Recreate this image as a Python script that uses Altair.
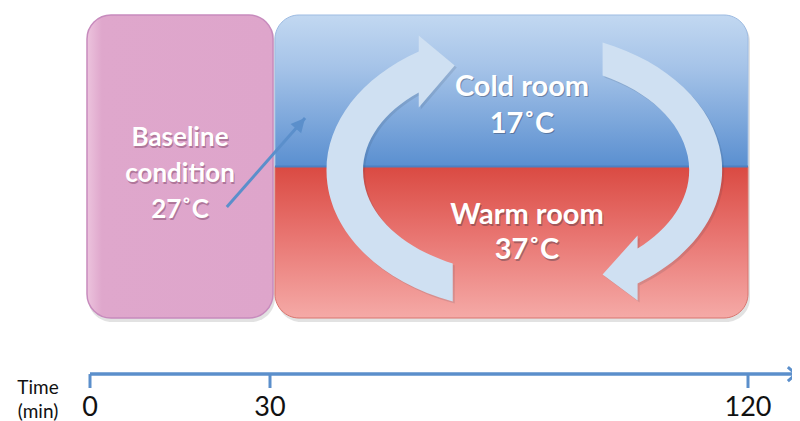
import altair as alt
import pandas as pd

# ---- data ----
phase_lines = ["Baseline\ncondition", "Cold room", "Warm room"]
phase_temp = [27, 17, 37]            # °C
phase_start = [0, 30, 30]            # min
phase_end = [30, 120, 120]           # min
phase_top = [0, 0, 1]                # layout band (0 top, 2 bottom)
phase_bottom = [2, 1, 2]

tick_values = [0, 30, 120]           # min
tick_labels = ["0", "30", "120"]
axis_end = 129.2                     # arrow continues past 120 min

phases = pd.DataFrame({
    "phase": ["baseline", "cold", "warm"],
    "label": [f"{l}\n{t}˚C" for l, t in zip(phase_lines, phase_temp)],
    "start": phase_start, "end": phase_end,
    "top": phase_top, "bottom": phase_bottom,
})
phases["mid"] = (phases["start"] + phases["end"]) / 2
phases["ymid"] = (phases["top"] + phases["bottom"]) / 2

ticks = pd.DataFrame({"t": tick_values, "lab": tick_labels})

# ---- layout (scale units) ----
Y_AXIS, Y_TICK, Y_LAB = 2.37, 2.462, 2.594
FONT = "Lato"

xs = alt.Scale(domain=[0, 30, 120], range=[82, 262, 740], nice=False, zero=False)
ys = alt.Scale(domain=[0, 2], range=[7, 310], nice=False, zero=False)
X = lambda f: alt.X(f, type="quantitative", scale=xs, axis=None)
Y = lambda f: alt.Y(f, type="quantitative", scale=ys, axis=None)

base = alt.Chart(phases)


def grad(stops):
    return alt.Gradient(gradient="linear", x1=0, x2=0, y1=0, y2=1,
                        stops=[alt.GradientStop(color=c, offset=o) for o, c in stops])


# shadows
shadow_pink = base.transform_filter("datum.phase=='baseline'").mark_rect(
    cornerRadius=24, fill="#7a7a7a", opacity=0.22, xOffset=-2, x2Offset=5, yOffset=3, y2Offset=4
).encode(x=X("start"), x2="end", y=Y("top"), y2="bottom")
shadow_room = alt.Chart(pd.DataFrame({"s": [30], "e": [120], "a": [0], "b": [2]})).mark_rect(
    cornerRadius=24, fill="#7a7a7a", opacity=0.22, xOffset=7, x2Offset=2, yOffset=3, y2Offset=4
).encode(x=X("s"), x2="e", y=Y("a"), y2="b")

pink = base.transform_filter("datum.phase=='baseline'").mark_rect(
    cornerRadius=24, stroke="#c78bbd", strokeWidth=1.5, xOffset=-3, x2Offset=3,
    fill=alt.Gradient(gradient="linear", x1=0, x2=1, y1=0, y2=0,
                      stops=[alt.GradientStop(color="#ecc3dd", offset=0),
                             alt.GradientStop(color="#dfa7cc", offset=0.08),
                             alt.GradientStop(color="#dea5cb", offset=1)])
).encode(x=X("start"), x2="end", y=Y("top"), y2="bottom")

blue = base.transform_filter("datum.phase=='cold'").mark_rect(
    cornerRadiusTopLeft=24, cornerRadiusTopRight=24, xOffset=5, x2Offset=0,
    stroke="#9dbbe2", strokeWidth=1,
    fill=grad([(0, "#c2d8f1"), (0.35, "#a5c3e8"), (1, "#5a8fd0")])
).encode(x=X("start"), x2="end", y=Y("top"), y2="bottom")

red = base.transform_filter("datum.phase=='warm'").mark_rect(
    cornerRadiusBottomLeft=24, cornerRadiusBottomRight=24, xOffset=5, x2Offset=0,
    stroke="#d9756f", strokeWidth=1,
    fill=grad([(0, "#da4a42"), (0.45, "#e87470"), (1, "#f5aaa7")])
).encode(x=X("start"), x2="end", y=Y("top"), y2="bottom")

divider = base.transform_filter("datum.phase=='cold'").mark_rule(
    color="#4d80c2", strokeWidth=2, xOffset=5
).encode(x=X("start"), x2="end", y=Y("bottom"))

# circular arrows (decorative shapes centred in the room box)
LEFT_ARROW = ("M -69 131 A 195 140 0 0 1 -103 -119 L -103 -135 L -67 -105 "
              "L -103 -63 L -103 -78 A 159 103 0 0 0 -69 93 Z")
RIGHT_ARROW = ("M 75 -128 A 195 138 0 0 1 110 113 L 110 130 L 75 104 "
               "L 110 65 L 110 78 A 162 107 0 0 0 75 -95 Z")
room = base.transform_filter("datum.phase=='cold'")
arrows = []
for shape, dx in [(LEFT_ARROW, 2.4), (RIGHT_ARROW, 3.5)]:
    arrows.append(room.transform_calculate(mid2=f"datum.mid + {dx}")
                  .mark_point(shape=shape, size=4, filled=True, opacity=0.12,
                              color="#203040", xOffset=2, yOffset=6)
                  .encode(x=X("mid2:Q"), y=Y("bottom")))
    arrows.append(room.transform_calculate(mid2=f"datum.mid + {dx}")
                  .mark_point(shape=shape, size=4, filled=True, opacity=1,
                              color="#cfe0f2", yOffset=4)
                  .encode(x=X("mid2:Q"), y=Y("bottom")))

# small arrow from baseline to the rooms
link = alt.Chart(pd.DataFrame({"t0": [22.8], "t1": [36.6], "y0": [1.267], "y1": [0.68]}))
link_line = link.mark_rule(color="#5b8fcb", strokeWidth=3).encode(
    x=X("t0"), x2="t1", y=Y("y0"), y2="y1")
link_head = link.mark_point(shape="M 0 0 L 7 14 L -7 14 Z", size=4, filled=True,
                            opacity=1, color="#5b8fcb", angle=41, dx=4, dy=-5).encode(
    x=X("t1"), y=Y("y1"))


def label_layer(ph, dx, dy, size, lh):
    b = base.transform_filter(f"datum.phase=='{ph}'")
    sh = b.mark_text(font=FONT, fontWeight="bold", fontSize=size, lineBreak="\n",
                     lineHeight=lh, align="center", baseline="middle",
                     color="#5a2040" if ph == "baseline" else "#2a2a3a",
                     opacity=0.35, dx=dx + 1, dy=dy + 1.5).encode(
        x=X("mid"), y=Y("ymid"), text="label:N")
    fg = b.mark_text(font=FONT, fontWeight="bold", fontSize=size, lineBreak="\n",
                     lineHeight=lh, align="center", baseline="middle",
                     color="white", dx=dx, dy=dy).encode(
        x=X("mid"), y=Y("ymid"), text="label:N")
    return [sh, fg]


labels = (label_layer("baseline", 0, -28.5, 26, 36)
          + label_layer("cold", 13, -4, 29, 37)
          + label_layer("warm", 18, -27, 29, 35))

# timeline
axis_line = alt.Chart(pd.DataFrame({"a": [0], "b": [axis_end], "y": [Y_AXIS]})).mark_rule(
    color="#5b8fcb", strokeWidth=3.5).encode(x=X("a"), x2="b", y=Y("y"))
axis_head = alt.Chart(pd.DataFrame({"b": [axis_end], "y": [Y_AXIS]})).mark_point(
    shape="M -8 -7 L 0 0 L -8 7", size=4, filled=False, opacity=1, color="#5b8fcb",
    strokeWidth=3, xOffset=-1).encode(x=X("b"), y=Y("y"))
tick_marks = alt.Chart(ticks).mark_rule(color="#5b8fcb", strokeWidth=3).encode(
    x=X("t"), y=alt.Y("ya:Q", scale=ys, axis=None), y2="yb:Q"
).transform_calculate(ya=str(Y_AXIS), yb=str(Y_TICK))
tick_text = alt.Chart(ticks).mark_text(font=FONT, fontSize=27, color="#111111",
                                       align="center", baseline="middle").encode(
    x=X("t"), y=alt.Y("yl:Q", scale=ys, axis=None), text="lab:N"
).transform_calculate(yl=str(Y_LAB))
time_title = alt.Chart(pd.DataFrame({"t": [0], "y": [2.462], "txt": ["Time\n(min)"]})).mark_text(
    font=FONT, fontSize=19, lineBreak="\n", lineHeight=24, color="#111111",
    align="center", baseline="middle", dx=-52).encode(x=X("t"), y=Y("y"), text="txt:N")

chart = alt.layer(
    shadow_pink, shadow_room, pink, blue, red, divider, *arrows,
    link_line, link_head, *labels,
    axis_line, axis_head, tick_marks, tick_text, time_title
).properties(width=784, height=413, padding=0, autosize=alt.AutoSizeParams(type="none")
).configure_view(stroke=None)

chart.save("out.html", embed_options={"renderer": "svg", "actions": False})
